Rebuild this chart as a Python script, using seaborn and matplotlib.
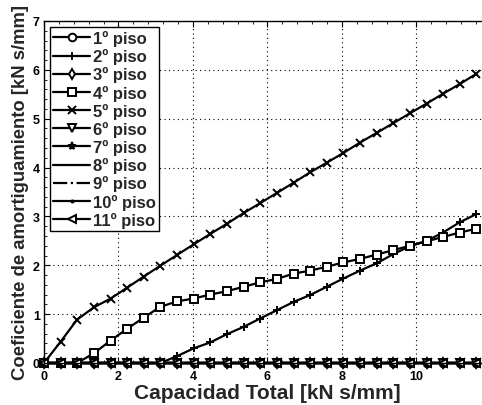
import numpy as np
import pandas as pd
import matplotlib
matplotlib.use("Agg")
import matplotlib.pyplot as plt
import seaborn as sns
from matplotlib.ticker import MultipleLocator

# ---- data ----
capacidad = [0.00, 0.45, 0.89, 1.34, 1.79, 2.23, 2.68, 3.12, 3.57, 4.02,
             4.46, 4.91, 5.36, 5.80, 6.25, 6.70, 7.14, 7.59, 8.04, 8.48,
             8.93, 9.38, 9.82, 10.27, 10.71, 11.16, 11.61]

piso_5 = [0.00, 0.44, 0.89, 1.14, 1.32, 1.54, 1.77, 1.99, 2.21, 2.43,
          2.64, 2.85, 3.07, 3.27, 3.48, 3.69, 3.90, 4.10, 4.30, 4.51,
          4.71, 4.91, 5.11, 5.31, 5.51, 5.71, 5.92]
piso_4 = [0.00, 0.00, 0.00, 0.20, 0.46, 0.70, 0.93, 1.15, 1.26, 1.32,
          1.40, 1.47, 1.56, 1.65, 1.72, 1.83, 1.89, 1.97, 2.06, 2.13,
          2.22, 2.31, 2.40, 2.49, 2.58, 2.67, 2.75]
piso_2 = [0.00, 0.00, 0.00, 0.00, 0.00, 0.00, 0.00, 0.00, 0.14, 0.30,
          0.42, 0.59, 0.74, 0.91, 1.08, 1.25, 1.39, 1.56, 1.73, 1.89,
          2.04, 2.23, 2.39, 2.50, 2.67, 2.88, 3.05]
ceros = [0.0] * len(capacidad)

etiquetas = ["1º piso", "2º piso", "3º piso", "4º piso", "5º piso", "6º piso",
             "7º piso", "8º piso", "9º piso", "10º piso", "11º piso"]
series = [ceros, piso_2, ceros, piso_4, piso_5, ceros, ceros, ceros, ceros, ceros, ceros]
marcadores = ["o", "+", "d", "s", "x", "v", "*", "", "", ".", "<"]
estilos = ["-", "-", "-", "-", "-", "-", "-", "-", "-.", "-", "-"]

sns.set_style("ticks")
plt.rcParams["font.family"] = ["Liberation Sans", "DejaVu Sans"]
plt.rcParams["font.weight"] = "bold"

fig = plt.figure(figsize=(4.82, 4.06), dpi=100)
ax = fig.add_axes([44 / 482, 42 / 406, 447 / 482, 342 / 406])

for lab, ys, mk, ls in zip(etiquetas, series, marcadores, estilos):
    hollow = mk in ("o", "d", "s", "v", "<")
    kw = dict(marker=mk if mk else None, linestyle=ls, color="black",
              linewidth=1.6, markersize=5.5 if mk != "." else 3,
              markeredgewidth=1.4, markeredgecolor="black",
              markerfacecolor=("white" if hollow else "black"),
              clip_on=False)
    df = pd.DataFrame({"x": capacidad, "y": ys})
    sns.lineplot(data=df, x="x", y="y", ax=ax, label=lab, **kw)

ax.set_xlim(0, 12)
ax.set_ylim(0, 7)
ax.xaxis.set_major_locator(MultipleLocator(2))
ax.xaxis.set_minor_locator(MultipleLocator(0.4))
ax.yaxis.set_major_locator(MultipleLocator(1))
ax.yaxis.set_minor_locator(MultipleLocator(0.2))
ax.tick_params(which="both", direction="in", top=True, right=True, colors="black")
ax.tick_params(which="major", length=4, width=0.8, labelsize=9, pad=3)
ax.tick_params(axis="x", which="major", pad=5)
ax.tick_params(which="minor", length=2, width=0.6)
for t in ax.get_xticklabels() + ax.get_yticklabels():
    t.set_fontweight("bold")
ax.grid(True, which="major", linestyle=(0, (1, 3)), color="black", linewidth=0.8)
for s in ax.spines.values():
    s.set_color("black")
    s.set_linewidth(1.0)

ax.set_xlabel("Capacidad Total [kN s/mm]", fontsize=15, fontweight="bold", labelpad=1)
ax.set_ylabel("Coeficiente de amortiguamiento [kN s/mm]", fontsize=13.3,
              fontweight="bold", labelpad=3)

leg = ax.legend(loc="upper left", fontsize=12, frameon=True, fancybox=False,
                edgecolor="black", framealpha=1, borderaxespad=0.35,
                labelspacing=0.13, handlelength=2.2, handletextpad=0.2,
                borderpad=0.2)
leg.get_frame().set_linewidth(1.0)
leg.set_zorder(10)
for t in leg.get_texts():
    t.set_fontweight("bold")

fig.savefig("out.png", dpi=100)
